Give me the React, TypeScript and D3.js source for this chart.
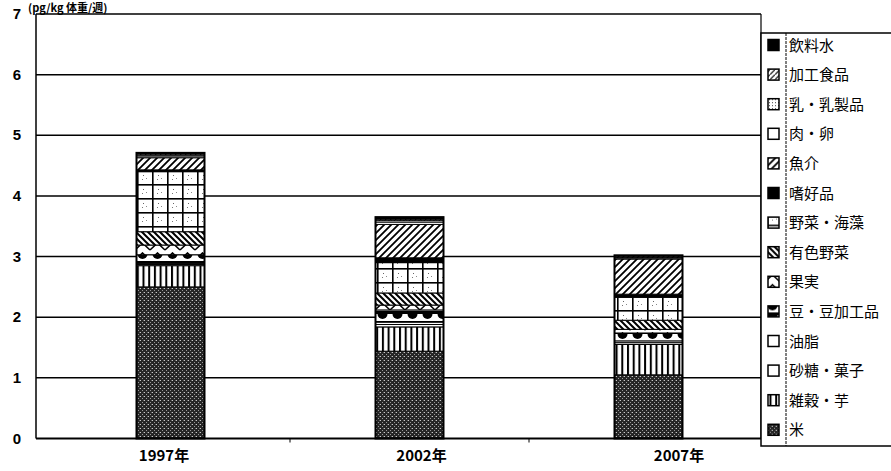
import * as d3 from 'd3';

const years = ['1997年', '2002年', '2007年'];
const categories = ['米', '雑穀・芋', '砂糖・菓子', '油脂', '豆・豆加工品', '果実', '有色野菜', '野菜・海藻', '嗜好品', '魚介', '肉・卵', '乳・乳製品', '加工食品', '飲料水'];
const v1997 = [2.5, 0.35, 0.02, 0.02, 0.14, 0.16, 0.22, 0.99, 0.03, 0.2, 0.03, 0.02, 0.02, 0.01];
const v2002 = [1.44, 0.4, 0.04, 0.04, 0.2, 0.08, 0.2, 0.5, 0.08, 0.55, 0.04, 0.03, 0.02, 0.03];
const v2007 = [1.05, 0.5, 0.03, 0.03, 0.13, 0.06, 0.15, 0.38, 0.05, 0.58, 0.02, 0.01, 0.02, 0.01];
const yTicks = [0, 1, 2, 3, 4, 5, 6, 7];
const yTitle = '(pg/kg 体重/週)';

const W = 891;
const H = 471;
const plot = { left: 36, right: 761, top: 14, bottom: 438.5 };
const barW = 68;

// pattern id per category
const patternId: Record<string, string> = {
  '米': 'p-rice',
  '雑穀・芋': 'p-vert',
  '砂糖・菓子': 'p-white',
  '油脂': 'p-white',
  '豆・豆加工品': 'p-scallop',
  '果実': 'p-zigzag',
  '有色野菜': 'p-back',
  '野菜・海藻': 'p-grid',
  '嗜好品': 'p-black',
  '魚介': 'p-fwd',
  '肉・卵': 'p-white',
  '乳・乳製品': 'p-dots',
  '加工食品': 'p-fwd2',
  '飲料水': 'p-black',
};

const Patterns = () => (
  <defs>
    <pattern id="p-rice" width={4} height={4} patternUnits="userSpaceOnUse">
      <rect width={4} height={4} fill="#262626" />
      <rect x={0} y={0} width={1} height={1} fill="#c8c8c8" />
      <rect x={2} y={2} width={1} height={1} fill="#9a9a9a" />
      <rect x={3} y={0} width={1} height={1} fill="#606060" />
    </pattern>
    <pattern id="p-vert" width={5.7} height={10} patternUnits="userSpaceOnUse">
      <rect width={5.7} height={10} fill="#fff" />
      <rect x={0} width={2} height={10} fill="#000" />
    </pattern>
    <pattern id="p-white" width={4} height={4} patternUnits="userSpaceOnUse">
      <rect width={4} height={4} fill="#fff" />
    </pattern>
    <pattern id="p-black" width={4} height={4} patternUnits="userSpaceOnUse">
      <rect width={4} height={4} fill="#000" />
    </pattern>
    <pattern id="p-scallop" width={15} height={10} patternUnits="userSpaceOnUse" y={1}>
      <rect width={15} height={10} fill="#fff" />
      <rect width={15} height={3} fill="#000" />
      <path d="M2.5,3 A5,5 0 0 0 12.5,3 Z" fill="#000" />
    </pattern>
    <pattern id="p-zigzag" width={15} height={10} patternUnits="userSpaceOnUse" y={2}>
      <rect width={15} height={10} fill="#fff" />
      <path d="M0,8 L7.5,1 L15,8" fill="none" stroke="#000" strokeWidth={1.6} />
    </pattern>
    <pattern id="p-back" width={6} height={6} patternUnits="userSpaceOnUse">
      <rect width={6} height={6} fill="#fff" />
      <path d="M-1,-1 L7,7 M-1,5 L1,7 M5,-1 L7,1" stroke="#000" strokeWidth={2} />
    </pattern>
    <pattern id="p-fwd" width={7} height={7} patternUnits="userSpaceOnUse">
      <rect width={7} height={7} fill="#fff" />
      <path d="M-1,8 L8,-1 M-1,1 L1,-1 M6,8 L8,6" stroke="#000" strokeWidth={1.8} />
    </pattern>
    <pattern id="p-fwd2" width={5} height={5} patternUnits="userSpaceOnUse">
      <rect width={5} height={5} fill="#fff" />
      <path d="M-1,6 L6,-1" stroke="#000" strokeWidth={1.2} />
    </pattern>
    <pattern id="p-grid" width={15} height={14} patternUnits="userSpaceOnUse" x={2} y={2}>
      <rect width={15} height={14} fill="#fff" />
      <rect x={0} y={0} width={15} height={1.6} fill="#000" />
      <rect x={0} y={0} width={1.6} height={14} fill="#000" />
      <rect x={6} y={5} width={1} height={1} fill="#666" />
      <rect x={9} y={8} width={1} height={1} fill="#888" />
      <rect x={5} y={9} width={1} height={1} fill="#777" />
    </pattern>
    <pattern id="p-dots" width={3} height={3} patternUnits="userSpaceOnUse">
      <rect width={3} height={3} fill="#fff" />
      <rect x={1} y={1} width={1} height={1} fill="#444" />
    </pattern>
  </defs>
);

const App = () => {
  const rows = years.map((yr, i) => {
    const vals = [v1997, v2002, v2007][i];
    const row: Record<string, number | string> = { year: yr };
    categories.forEach((c, j) => (row[c] = vals[j]));
    return row;
  });

  const stack = d3.stack<Record<string, number | string>>().keys(categories);
  const series = stack(rows as any);

  const x = d3.scaleBand<string>().domain(years).range([51, 768]);
  const xLabel = d3.scalePoint<string>().domain(years).range([164, 679]);
  const y = d3.scaleLinear().domain([0, 7]).range([plot.bottom, plot.top]);

  const legendY = (i: number) => 45 + i * 29.6;
  const legendItems = categories.slice().reverse();

  return (
    <svg width={W} height={H} style={{ position: 'absolute', left: 0, top: 0, background: '#fff' }}>
      <Patterns />
      <rect width={W} height={H} fill="#fff" />
      {/* axis title */}
      <text x={28} y={12} fontFamily="'Noto Sans CJK JP'" fontSize={11} fontWeight="bold">{yTitle}</text>

      {/* gridlines */}
      {yTicks.slice(1, -1).map(t => (
        <line key={t} x1={plot.left} x2={plot.right} y1={y(t)} y2={y(t)} stroke="#000" strokeWidth={1.5} />
      ))}

      {/* bars */}
      {series.map((s, si) => (
        <g key={categories[si]} fill={`url(#${patternId[categories[si]]})`}>
          {s.map((d, di) => {
            const yr = years[di];
            const bx = (x(yr) ?? 0) + (x.bandwidth() - barW) / 2;
            return (
              <rect
                key={yr}
                x={bx}
                y={y(d[1])}
                width={barW}
                height={Math.max(0, y(d[0]) - y(d[1]))}
                stroke="#000"
                strokeWidth={1}
              />
            );
          })}
        </g>
      ))}
      {/* bar outlines */}
      {rows.map((r, i) => {
        const yr = years[i];
        const total = d3.sum(categories, c => r[c] as number);
        const bx = (x(yr) ?? 0) + (x.bandwidth() - barW) / 2;
        return (
          <rect key={yr} x={bx} y={y(total)} width={barW} height={y(0) - y(total)} fill="none" stroke="#000" strokeWidth={2} />
        );
      })}

      {/* plot frame */}
      <line x1={plot.left} x2={plot.left} y1={plot.top} y2={plot.bottom} stroke="#000" strokeWidth={1.5} />
      <line x1={plot.left} x2={plot.right} y1={plot.top} y2={plot.top} stroke="#000" strokeWidth={1.5} />
      <line x1={plot.right} x2={plot.right} y1={plot.top} y2={plot.bottom} stroke="#000" strokeWidth={1.2} />
      <line x1={plot.left} x2={plot.right} y1={plot.bottom} y2={plot.bottom} stroke="#000" strokeWidth={1.8} />

      {/* category separators */}
      {years.slice(1).map(yr => (
        <line key={yr} x1={x(yr)} x2={x(yr)} y1={plot.bottom} y2={plot.bottom + 4} stroke="#000" strokeWidth={1} />
      ))}

      {/* y tick labels */}
      {yTicks.map(t => (
        <text key={t} x={21} y={y(t) + 5} textAnchor="end" fontFamily="'Liberation Sans', sans-serif" fontWeight="bold" fontSize={15}>
          {t}
        </text>
      ))}

      {/* x labels */}
      {years.map(yr => (
        <text key={yr} x={xLabel(yr)} y={461} textAnchor="middle" fontFamily="'Noto Sans CJK JP'" fontWeight="bold" fontSize={15}>
          {yr}
        </text>
      ))}

      {/* legend */}
      <rect x={761} y={33} width={135} height={413} fill="#fff" stroke="#000" strokeWidth={1.5} />
      <line x1={786} x2={786} y1={33} y2={446} stroke="#000" strokeWidth={1} strokeDasharray="3,1" />
      {legendItems.map((c, i) => (
        <g key={c} transform={`translate(0,${legendY(i)})`}>
          <rect x={768} y={-5.5} width={11} height={11} fill={`url(#${patternId[c]})`} stroke="#000" strokeWidth={1.5} />
          <text x={789} y={5.5} fontFamily="'Noto Sans CJK JP'" fontSize={15}>{c}</text>
        </g>
      ))}
    </svg>
  );
};

export default App;
